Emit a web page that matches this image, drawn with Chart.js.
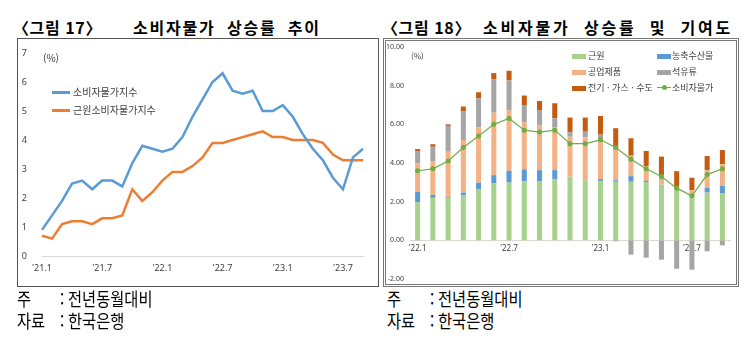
<!DOCTYPE html>
<html lang="ko">
<head>
<meta charset="utf-8">
<script src="https://cdn.jsdelivr.net/npm/chart.js@4.4.0/dist/chart.umd.min.js"></script>
<style>
  body { margin: 0; width: 755px; height: 346px; background: #fff; position: relative; overflow: hidden;
         font-family: "Noto Sans CJK KR", "Noto Sans", sans-serif; color: #000; }
  .abs { position: absolute; white-space: nowrap; }
  .title { font-size: 16px; font-weight: bold; line-height: 20px; top: 17px; }
  .note { font-size: 18px; line-height: 22px; transform: scaleX(0.85); transform-origin: left center; }
  .frame { position: absolute; top: 38px; height: 249px; box-sizing: border-box; }
  .frame canvas { position: absolute; left: 0; top: 0; }
  .leg { font-size: 10px; color: #404040; line-height: 12px; }
  .leg2 { font-size: 9px; color: #404040; line-height: 12px; }
  .sw { position: absolute; height: 5px; width: 14px; }
</style>
</head>
<body>

<div class="abs title" style="left:13px; letter-spacing:0.6px;">〈그림 17〉</div>
<div class="abs title" style="left:133px; letter-spacing:1.8px; word-spacing:5px;">소비자물가 상승률 추이</div>
<div class="abs title" style="left:382px; letter-spacing:0.6px;">〈그림 18〉</div>
<div class="abs title" style="left:483px; letter-spacing:2.8px; word-spacing:6px;">소비자물가 상승률 및 기여도</div>

<div class="frame" style="left:17px; width:362px; border:1px solid #555;">
  <canvas id="chart17" width="360" height="247"></canvas>
</div>
<div class="frame" style="left:383px; width:356px; border:3px double #777;">
  <canvas id="chart18" width="350" height="243"></canvas>
</div>

<!-- 그림 17 범례 -->
<div class="abs leg" style="left:43px; top:52px;">(%)</div>
<div class="abs" style="left:52px; top:91px; width:18px; height:2.5px; background:#5B9BD5;"></div>
<div class="abs leg" style="left:73px; top:86px;">소비자물가지수</div>
<div class="abs" style="left:52px; top:109px; width:18px; height:2.5px; background:#ED7D31;"></div>
<div class="abs leg" style="left:73px; top:104px;">근원소비자물가지수</div>

<!-- 그림 18 범례 -->
<div class="abs leg2" style="left:411px; top:50px; font-size:8px;">(%)</div>
<div class="sw" style="left:572px; top:54px; background:#A9D18E;"></div>
<div class="abs leg2" style="left:588px; top:50px;">근원</div>
<div class="sw" style="left:572px; top:70px; background:#F4B183;"></div>
<div class="abs leg2" style="left:588px; top:66px;">공업제품</div>
<div class="sw" style="left:572px; top:86px; background:#C55A11;"></div>
<div class="abs leg2" style="left:588px; top:82px;">전기 · 가스 · 수도</div>
<div class="sw" style="left:657px; top:54px; background:#5B9BD5;"></div>
<div class="abs leg2" style="left:672px; top:50px;">농축수산물</div>
<div class="sw" style="left:657px; top:70px; background:#A5A5A5;"></div>
<div class="abs leg2" style="left:672px; top:66px;">석유류</div>
<div class="abs" style="left:657px; top:87px; width:14px; height:1px; background:#70AD47;"></div>
<div class="abs" style="left:662px; top:85px; width:5px; height:5px; border-radius:50%; background:#70AD47;"></div>
<div class="abs leg2" style="left:672px; top:82px;">소비자물가</div>

<!-- 주, 자료 -->
<div class="abs note" style="left:17px; top:287px;">주</div>
<div class="abs note" style="left:60px; top:287px;">:</div>
<div class="abs note" style="left:68px; top:287px;">전년동월대비</div>
<div class="abs note" style="left:17px; top:309px;">자료</div>
<div class="abs note" style="left:60px; top:309px;">:</div>
<div class="abs note" style="left:68px; top:309px;">한국은행</div>
<div class="abs note" style="left:387px; top:287px;">주</div>
<div class="abs note" style="left:430px; top:287px;">:</div>
<div class="abs note" style="left:438px; top:287px;">전년동월대비</div>
<div class="abs note" style="left:387px; top:309px;">자료</div>
<div class="abs note" style="left:430px; top:309px;">:</div>
<div class="abs note" style="left:438px; top:309px;">한국은행</div>

<script>
// 그림 17: 2021.1 ~ 2023.9
const months17 = [
  "'21.1", "'21.2", "'21.3", "'21.4", "'21.5", "'21.6", "'21.7", "'21.8", "'21.9", "'21.10", "'21.11", "'21.12",
  "'22.1", "'22.2", "'22.3", "'22.4", "'22.5", "'22.6", "'22.7", "'22.8", "'22.9", "'22.10", "'22.11", "'22.12",
  "'23.1", "'23.2", "'23.3", "'23.4", "'23.5", "'23.6", "'23.7", "'23.8", "'23.9"
];
const cpi17 = [0.9, 1.4, 1.9, 2.5, 2.6, 2.3, 2.6, 2.6, 2.4, 3.2, 3.8, 3.7,
               3.6, 3.7, 4.1, 4.8, 5.4, 6.0, 6.3, 5.7, 5.6, 5.7, 5.0, 5.0,
               5.2, 4.8, 4.2, 3.7, 3.3, 2.7, 2.3, 3.4, 3.7];
const core17 = [0.7, 0.6, 1.1, 1.2, 1.2, 1.1, 1.3, 1.3, 1.4, 2.3, 1.9, 2.2,
                2.6, 2.9, 2.9, 3.1, 3.4, 3.9, 3.9, 4.0, 4.1, 4.2, 4.3, 4.1,
                4.1, 4.0, 4.0, 4.0, 3.9, 3.5, 3.3, 3.3, 3.3];

// 그림 18: 2022.1 ~ 2023.9 (기여도, %p)
const months18 = [
  "'22.1", "'22.2", "'22.3", "'22.4", "'22.5", "'22.6", "'22.7", "'22.8", "'22.9", "'22.10", "'22.11", "'22.12",
  "'23.1", "'23.2", "'23.3", "'23.4", "'23.5", "'23.6", "'23.7", "'23.8", "'23.9"
];
const coreC = [1.96, 2.2, 2.2, 2.34, 2.65, 2.94, 2.99, 3.06, 3.06, 3.17, 3.29, 3.11, 3.06, 3.03, 3.03, 2.99, 2.89, 2.65, 2.42, 2.47, 2.42];
const agriC = [0.55, 0.15, 0.05, 0.13, 0.33, 0.43, 0.61, 0.61, 0.57, 0.46, 0, 0, 0.1, 0.08, 0.29, 0.09, 0, 0, 0, 0.25, 0.4];
const indC = [1.47, 1.75, 2.37, 2.72, 2.87, 3.24, 3.11, 2.44, 2.34, 2.2, 2.07, 2.22, 2.11, 1.65, 1.06, 0.76, 0.48, 0.12, 0.18, 0.91, 1.12];
const oilC = [0.64, 0.74, 1.3, 1.47, 1.5, 1.73, 1.56, 0.89, 0.74, 0.48, 0.23, 0.29, 0.2, -0.05, -0.74, -0.9, -1.0, -1.47, -1.52, -0.57, -0.26];
const utilC = [0.1, 0.13, 0.08, 0.26, 0.31, 0.31, 0.5, 0.49, 0.5, 0.78, 0.76, 0.73, 0.96, 1.04, 0.9, 0.78, 0.96, 0.81, 0.64, 0.73, 0.73];
const cpi18 = [3.6, 3.7, 4.1, 4.8, 5.4, 6.0, 6.3, 5.7, 5.6, 5.7, 5.0, 5.0, 5.2, 4.8, 4.2, 3.7, 3.3, 2.7, 2.3, 3.4, 3.7];

const tickColor = "#404040";

// 1월, 7월만 표시
function halfYearTick(labels) {
  return function (value, index) {
    const m = labels[index].split(".")[1];
    return m === "1" || m === "7" ? labels[index] : "";
  };
}

// y축 폭 고정, 눈금 글자 여백이 그림 영역을 줄이지 않게
function fixYAxis(width) {
  return function (s) {
    s.width = width;
    s.paddingTop = 0;
    s.paddingBottom = 0;
  };
}

new Chart(document.getElementById("chart17"), {
  type: "line",
  data: {
    labels: months17,
    datasets: [
      { label: "소비자물가지수", data: cpi17, borderColor: "#5B9BD5", borderWidth: 2.5, pointRadius: 0, tension: 0 },
      { label: "근원소비자물가지수", data: core17, borderColor: "#ED7D31", borderWidth: 2.5, pointRadius: 0, tension: 0 },
    ],
  },
  options: {
    responsive: false,
    animation: false,
    layout: { padding: { top: 14, right: 15, bottom: 0, left: 0 } },
    plugins: { legend: { display: false }, tooltip: { enabled: false } },
    scales: {
      x: {
        grid: { display: false, drawTicks: false },
        border: { color: "#d9d9d9" },
        afterFit: (s) => { s.height = 30; },
        ticks: {
          autoSkip: false, maxRotation: 0, padding: 7, color: tickColor,
          font: { family: "Noto Sans", size: 9 },
          callback: halfYearTick(months17),
        },
      },
      y: {
        min: 0, max: 7,
        grid: { display: false, drawTicks: false },
        border: { display: false },
        afterFit: fixYAxis(24),
        ticks: { stepSize: 1, padding: 15, color: tickColor, font: { family: "Noto Sans", size: 9 } },
      },
    },
  },
});

new Chart(document.getElementById("chart18"), {
  type: "bar",
  data: {
    labels: months18,
    datasets: [
      { type: "line", label: "소비자물가", data: cpi18, stack: "line", order: 0, borderColor: "#70AD47", borderWidth: 1.2,
        pointRadius: 2.5, pointBackgroundColor: "#70AD47", pointBorderWidth: 0, tension: 0 },
      { label: "근원", data: coreC, backgroundColor: "#A9D18E", order: 1 },
      { label: "농축수산물", data: agriC, backgroundColor: "#5B9BD5", order: 1 },
      { label: "공업제품", data: indC, backgroundColor: "#F4B183", order: 1 },
      { label: "석유류", data: oilC, backgroundColor: "#A5A5A5", order: 1 },
      { label: "전기·가스·수도", data: utilC, backgroundColor: "#C55A11", order: 1 },
    ],
  },
  options: {
    responsive: false,
    animation: false,
    layout: { padding: { top: 6, right: 6, bottom: 5, left: 0 } },
    datasets: { bar: { barPercentage: 0.33, categoryPercentage: 1 } },
    plugins: { legend: { display: false }, tooltip: { enabled: false } },
    scales: {
      x: {
        stacked: true,
        position: { y: 0 },
        grid: { display: false, drawTicks: false },
        border: { color: "#d9d9d9" },
        afterFit: (s) => { s.height = 0; },
        ticks: {
          autoSkip: false, maxRotation: 0, padding: 4, color: tickColor,
          font: { family: "Noto Sans", size: 8 },
          callback: halfYearTick(months18),
        },
      },
      y: {
        stacked: true,
        min: -2, max: 10,
        grid: { display: false, drawTicks: false },
        border: { display: false },
        afterFit: fixYAxis(24),
        ticks: {
          stepSize: 2, padding: 6, color: tickColor, font: { family: "Noto Sans", size: 7 },
          callback: (v) => v.toFixed(2),
        },
      },
    },
  },
});
</script>
</body>
</html>
